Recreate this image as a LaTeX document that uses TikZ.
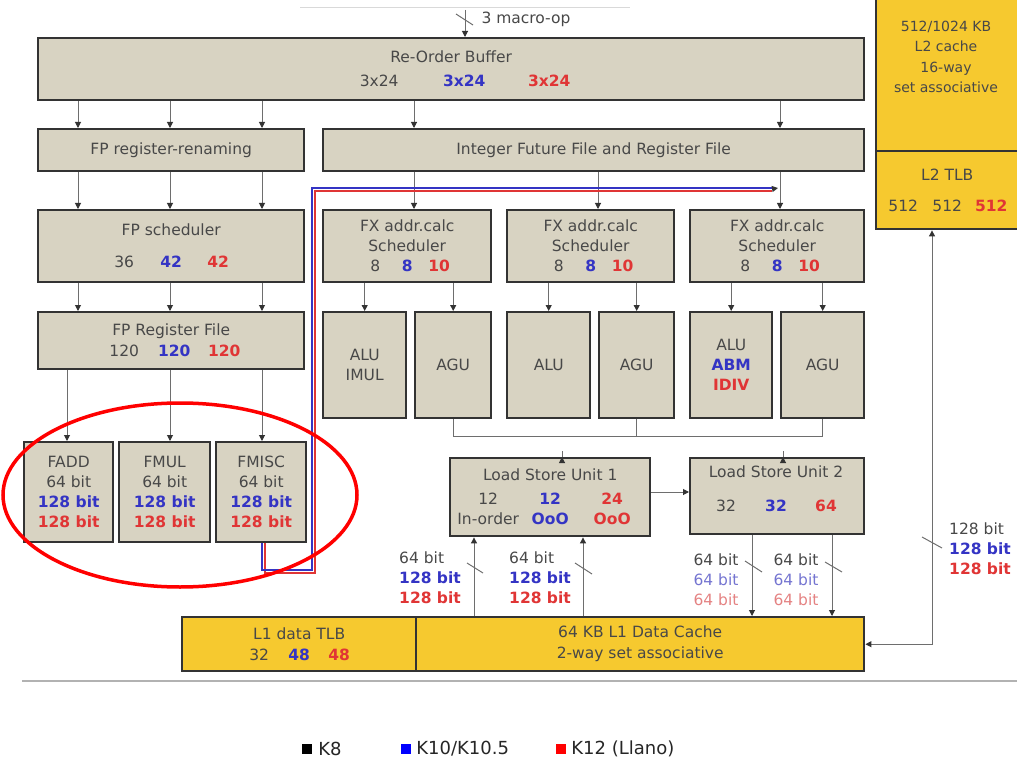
\documentclass[tikz,border=0pt]{standalone}
\usepackage{fontspec}
\setmainfont{DejaVu Sans}
\usetikzlibrary{arrows.meta,positioning}
\definecolor{unitFill}{HTML}{D8D3C2}
\definecolor{cacheYellow}{HTML}{F6C92F}
\definecolor{unitLine}{HTML}{333333}
\definecolor{wireGray}{HTML}{6E6E6E}
\definecolor{txtGray}{HTML}{484848}
\definecolor{k10Blue}{HTML}{3434C4}
\definecolor{k12Red}{HTML}{E03535}
\definecolor{k10Light}{HTML}{7474D0}
\definecolor{k12Light}{HTML}{E48282}
\newcommand{\ktn}[1]{\textcolor{k10Blue}{\bfseries #1}}
\newcommand{\ktw}[1]{\textcolor{k12Red}{\bfseries #1}}
\newcommand{\numcell}[2]{\makebox[#1pt]{#2}}

\begin{document}
\begin{tikzpicture}[x=1pt, y=-1pt,
    font=\fontsize{15.5}{20}\selectfont,
    unit/.style={draw=unitLine, line width=2.4pt, fill=unitFill, text=txtGray,
                 anchor=north west, align=center, inner sep=0pt},
    cache/.style={unit, fill=cacheYellow},
    arr/.style={draw=wireGray, line width=1pt, -{Triangle[length=6pt,width=6pt,color=unitLine]}},
    wire/.style={draw=wireGray, line width=1pt},
    slashmk/.style={draw=wireGray, line width=1pt},
    buslbl/.style={align=left, inner sep=0pt, text=txtGray},
    legtxt/.style={font=\fontsize{18}{20}\selectfont, inner sep=0pt, text=black!85}]
    \useasboundingbox (0,0) rectangle (1017,762);

    % top input
    \draw[gray!30, line width=1pt] (300,8) -- (630,8);
    \coordinate (mopin) at (465,10);

    % L2 side
    \node[cache, minimum width=150, minimum height=155] (l2c) at (875,-5) {};
    \node[text=txtGray, align=center, font=\fontsize{14}{20.5}\selectfont] (l2ctxt) at (946,57)
        {512/1024 KB\\L2 cache\\16-way\\set associative};
    \node[cache, minimum width=150, minimum height=78] (l2tlb) at (875,150)
        {\hspace*{-8pt}L2 TLB\\[11pt]\hspace*{-8pt}\numcell{44}{512}\numcell{44}{512}\numcell{44}{\ktw{512}}};

    % front end
    \node[unit, minimum width=826, minimum height=62] (rob) at (37,37)
        {Re-Order Buffer\\[4pt]\hspace*{26pt}\numcell{85}{3x24}\numcell{85}{\ktn{3x24}}\numcell{85}{\ktw{3x24}}};
    \node[unit, minimum width=266, minimum height=42] (fpren) at (37,128) {FP register-renaming};
    \node[unit, minimum width=541, minimum height=42] (intrf) at (322,128) {Integer Future File and Register File};

    % FP side
    \node[unit, minimum width=266, minimum height=72] (fpsch) at (37,209)
        {FP scheduler\\[12pt]\numcell{47}{36}\numcell{47}{\ktn{42}}\numcell{47}{\ktw{42}}};
    \node[unit, minimum width=266, minimum height=57] (fprf) at (37,311)
        {FP Register File\\[1pt]\hspace*{6pt}\numcell{50}{120}\numcell{50}{\ktn{120}}\numcell{50}{\ktw{120}}};
    \node[unit, minimum width=89, minimum height=100] (fadd) at (23,441)
        {FADD\\64 bit\\\ktn{128 bit}\\\ktw{128 bit}};
    \node[unit, minimum width=91, minimum height=100] (fmul) at (118,441)
        {FMUL\\64 bit\\\ktn{128 bit}\\\ktw{128 bit}};
    \node[unit, minimum width=90, minimum height=100] (fmisc) at (215,441)
        {FMISC\\64 bit\\\ktn{128 bit}\\\ktw{128 bit}};

    % integer side
    \node[unit, minimum width=168, minimum height=72] (fxs1) at (322,209)
        {FX addr.calc\\Scheduler\\\numcell{32}{8}\numcell{32}{\ktn{8}}\numcell{32}{\ktw{10}}};
    \node[unit, minimum width=167, minimum height=72] (fxs2) at (506,209)
        {FX addr.calc\\Scheduler\\\numcell{32}{8}\numcell{32}{\ktn{8}}\numcell{32}{\ktw{10}}};
    \node[unit, minimum width=174, minimum height=72] (fxs3) at (689,209)
        {FX addr.calc\\Scheduler\\\numcell{32}{8}\numcell{32}{\ktn{8}}\numcell{32}{\ktw{10}}};
    \node[unit, minimum width=83, minimum height=106] (alu1) at (322,311) {ALU\\IMUL};
    \node[unit, minimum width=76, minimum height=106] (agu1) at (414,311) {AGU};
    \node[unit, minimum width=83, minimum height=106] (alu2) at (506,311) {ALU};
    \node[unit, minimum width=75, minimum height=106] (agu2) at (598,311) {AGU};
    \node[unit, minimum width=82, minimum height=106] (alu3) at (689,311) {ALU\\\ktn{ABM}\\\ktw{IDIV}};
    \node[unit, minimum width=83, minimum height=106] (agu3) at (780,311) {AGU};

    % load/store
    \node[unit, minimum width=200, minimum height=78] (lsu1) at (449,457)
        {Load Store Unit 1\\[4pt]\numcell{62}{12}\numcell{62}{\ktn{12}}\numcell{62}{\ktw{24}}\\
         \numcell{62}{In-order}\numcell{62}{\ktn{OoO}}\numcell{62}{\ktw{OoO}}};
    \node[unit, minimum width=174, minimum height=76] (lsu2) at (689,457) {};
    \node[text=txtGray, align=center] (lsu2txt) at (776,489)
        {Load Store Unit 2\\[14pt]\numcell{50}{32}\numcell{50}{\ktn{32}}\numcell{50}{\ktw{64}}};

    % L1
    \node[cache, minimum width=234, minimum height=54] (l1tlb) at (181,616)
        {L1 data TLB\\[1pt]\numcell{40}{32}\numcell{40}{\ktn{48}}\numcell{40}{\ktw{48}}};
    \node[cache, minimum width=448, minimum height=54] (l1dc) at (415,616)
        {64 KB L1 Data Cache\\[1pt]2-way set associative};

    % connectors
    \draw[arr] (mopin) -- (rob.north -| mopin);
    \draw[slashmk] (456,14) -- (473,25);
    \node[text=txtGray, anchor=west] (moplbl) at (478,19) {3 macro-op};

    \foreach \x in {78,170,262} {
        \draw[arr] (rob.south -| \x,0) -- (fpren.north -| \x,0);
        \draw[arr] (fpren.south -| \x,0) -- (fpsch.north -| \x,0);
        \draw[arr] (fpsch.south -| \x,0) -- (fprf.north -| \x,0);
    }
    \draw[arr] (fprf.south -| 67,0) -- (fadd.north -| 67,0);
    \draw[arr] (fprf.south -| 170,0) -- (fmul.north -| 170,0);
    \draw[arr] (fprf.south -| 262,0) -- (fmisc.north -| 262,0);

    \foreach \x in {414,780}
        \draw[arr] (rob.south -| \x,0) -- (intrf.north -| \x,0);
    \draw[arr] (intrf.south -| 414,0) -- (fxs1.north -| 414,0);
    \draw[arr] (intrf.south -| 598,0) -- (fxs2.north -| 598,0);
    \draw[arr] (intrf.south -| 780,0) -- (fxs3.north -| 780,0);

    \draw[arr] (fxs1.south -| alu1.north) -- (alu1.north);
    \draw[arr] (fxs1.south -| agu1.north) -- (agu1.north);
    \draw[arr] (fxs2.south -| alu2.north) -- (alu2.north);
    \draw[arr] (fxs2.south -| agu2.north) -- (agu2.north);
    \draw[arr] (fxs3.south -| alu3.north) -- (alu3.north);
    \draw[arr] (fxs3.south -| agu3.north) -- (agu3.north);

    % AGU bus
    \draw[wire] (agu1.south) -- (agu1.south |- 0,436) -- (agu3.south |- 0,436) -- (agu3.south);
    \draw[wire] (agu2.south) -- (agu2.south |- 0,436);
    \draw[arr] (lsu1.north -| 562,0 |- 0,436) -- (lsu1.north -| 562,0);
    \draw[arr] (lsu2.north -| 783,0 |- 0,436) -- (lsu2.north -| 783,0);
    \draw[arr] (lsu1.east |- 0,492) -- (lsu2.west |- 0,492);

    % FMISC to integer side
    \coordinate (fpjoin) at (778,188);
    \draw[k12Red, line width=1.6pt] (fmisc.south -| 265,0) -- (265,573) -- (315,573) -- (315,191) -- (772,191);
    \draw[k10Blue, line width=2pt] (fmisc.south -| 262,0) -- (262,570) -- (312,570) -- (312,188) -- (772,188);
    \draw[arr, draw=unitLine] (772,189) -- (fpjoin);

    % L1 <-> LSU
    \draw[arr] (l1dc.north -| 474,0) -- (lsu1.south -| 474,0);
    \draw[arr] (l1dc.north -| 583,0) -- (lsu1.south -| 583,0);
    \draw[arr] (lsu2.south -| 752,0) -- (l1dc.north -| 752,0);
    \draw[arr] (lsu2.south -| 832,0) -- (l1dc.north -| 832,0);
    \draw[slashmk] (467,563) -- (483,573);
    \draw[slashmk] (575,563) -- (592,574);
    \draw[slashmk] (745,561) -- (762,572);
    \draw[slashmk] (825,562) -- (842,572);
    \node[buslbl] (bw1) at (430,578) {64 bit\\\ktn{128 bit}\\\ktw{128 bit}};
    \node[buslbl] (bw2) at (540,578) {64 bit\\\ktn{128 bit}\\\ktw{128 bit}};
    \node[buslbl] (bw3) at (716,580) {64 bit\\\textcolor{k10Light}{64 bit}\\\textcolor{k12Light}{64 bit}};
    \node[buslbl] (bw4) at (796,580) {64 bit\\\textcolor{k10Light}{64 bit}\\\textcolor{k12Light}{64 bit}};

    % L2 TLB <-> L1
    \draw[arr, {Triangle[length=6pt,width=6pt,color=unitLine]}-{Triangle[length=6pt,width=6pt,color=unitLine]}]
        (l2tlb.south -| 932,0) |- (l1dc.east);
    \draw[slashmk] (922,537) -- (942,548);
    \node[buslbl] (bw5) at (980,549) {128 bit\\\ktn{128 bit}\\\ktw{128 bit}};

    % separator and legend
    \draw[gray!60, line width=1.2pt] (22,681) -- (1017,681);
    \node[fill=black, minimum size=10, inner sep=0pt] (lgk8) at (307,749) {};
    \node[right=6pt of lgk8, legtxt] (lgk8t) {K8};
    \node[fill=blue, minimum size=10, inner sep=0pt] (lgk10) at (406,749) {};
    \node[right=5pt of lgk10, legtxt] (lgk10t) {K10/K10.5};
    \node[fill=red, minimum size=10, inner sep=0pt] (lgk12) at (561,749) {};
    \node[right=5pt of lgk12, legtxt] (lgk12t) {K12 (Llano)};

    % highlight
    \draw[red, line width=3.5pt] (180,495) ellipse [x radius=177, y radius=92];
\end{tikzpicture}
\end{document}
